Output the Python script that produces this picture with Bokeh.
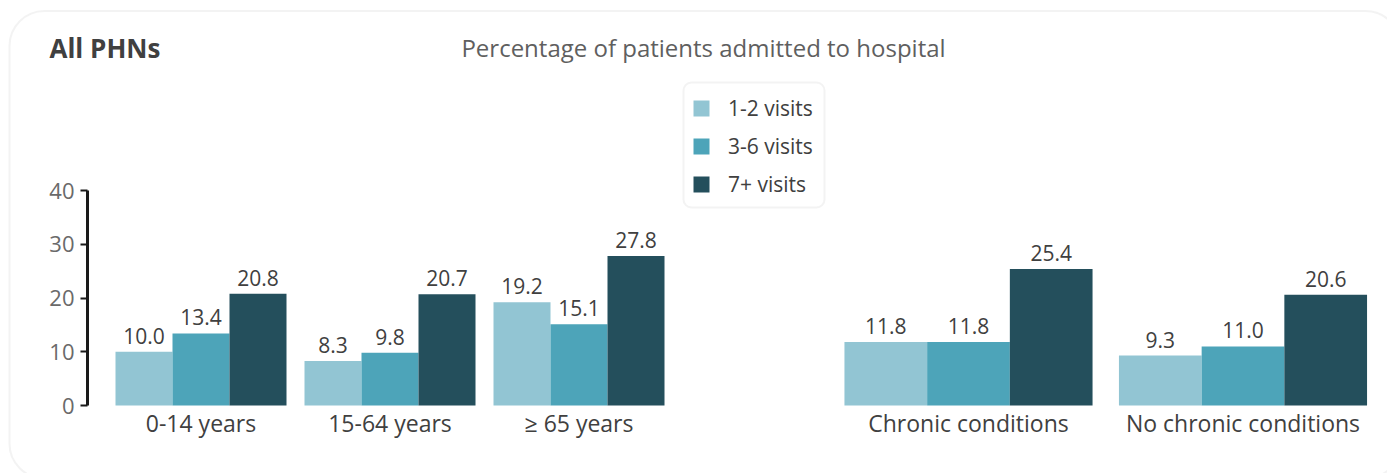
from bokeh.plotting import figure
from bokeh.models import (ColumnDataSource, Range1d, FixedTicker, Legend, LegendItem,
                          BoxAnnotation, Label)
from bokeh.core.properties import value
from bokeh.embed import file_html
from bokeh.resources import INLINE

# ---------------- data ----------------
categories = ["0-14 years", "15-64 years", "≥ 65 years", "Chronic conditions", "No chronic conditions"]
panel = [0, 0, 0, 1, 1]          # 0 = age panel (with y axis), 1 = chronic-condition panel
series_names = ["1-2 visits", "3-6 visits", "7+ visits"]
visits_1_2 = [10.0, 8.3, 19.2, 11.8, 9.3]
visits_3_6 = [13.4, 9.8, 15.1, 11.8, 11.0]
visits_7_plus = [20.8, 20.7, 27.8, 25.4, 20.6]
series_values = [visits_1_2, visits_3_6, visits_7_plus]
y_ticks = [0, 10, 20, 30, 40]
title_text = "All PHNs"
subtitle_text = "Percentage of patients admitted to hospital"

# ---------------- styling / layout ----------------
colors = ["#92c5d3", "#4da4b9", "#244f5c"]
FONT = "Open Sans"
TEXT = "#404040"
GREY = "#5f5f5f"
W, H = 1387, 473
AXIS_X = 87          # pixel column of the y axis
BASE_Y = 405         # pixel row of value 0
PX_PER_UNIT = 215 / 40.0


def ydata(py):
    """pixel row -> data value"""
    return (BASE_Y - py) / PX_PER_UNIT


def xdata(px):
    return px - AXIS_X


# group geometry (in pixel units, relative to the y axis)
GROUP_START = [113.5, 881.0]
GROUP_STEP = [189.0, 274.5]
BAR_W = [57.0, 82.7]

centers = []
counters = [0, 0]
for pnl in panel:
    centers.append(GROUP_START[pnl] + counters[pnl] * GROUP_STEP[pnl])
    counters[pnl] += 1

p = figure(width=W, height=H, output_backend="svg", toolbar_location=None,
           x_range=Range1d(xdata(0), xdata(W)), y_range=Range1d(ydata(H), ydata(0)),
           min_border=0, background_fill_color="white",
           border_fill_color="white", outline_line_color=None)
p.xgrid.visible = False
p.ygrid.visible = False

renderers = []
for s, vals in enumerate(series_values):
    xs, ws, tops, labels = [], [], [], []
    for i, v in enumerate(vals):
        w = BAR_W[panel[i]]
        xs.append(centers[i] + (s - 1) * w)
        ws.append(w)
        tops.append(v)
        labels.append(f"{v:.1f}")
    src = ColumnDataSource(dict(x=xs, w=ws, top=tops, label=labels))
    r = p.vbar(x="x", width="w", top="top", bottom=0, source=src,
               fill_color=colors[s], line_color=None)
    renderers.append(r)
    p.text(x="x", y="top", text="label", source=src, text_align="center",
           text_baseline="bottom", y_offset=-8, text_font=value(FONT),
           text_font_size="21px", text_color=TEXT)

# y axis
yax = p.yaxis[0]
yax.fixed_location = 0
yax.bounds = (0, 40)
yax.ticker = FixedTicker(ticks=y_ticks)
yax.axis_line_color = "#1a1a1a"
yax.axis_line_width = 3
yax.major_tick_line_color = "#1a1a1a"
yax.major_tick_line_width = 2
yax.major_tick_out = 7
yax.major_tick_in = 0
yax.minor_tick_line_color = None
yax.major_label_text_font = FONT
yax.major_label_text_font_size = "22px"
yax.major_label_text_color = "#6a6a6a"
yax.major_label_standoff = 6

# x axis with category labels
xax = p.xaxis[0]
xax.fixed_location = 0
xax.ticker = FixedTicker(ticks=centers)
xax.major_label_overrides = {c: name for c, name in zip(centers, categories)}
xax.axis_line_color = None
xax.major_tick_line_color = None
xax.major_tick_out = 0
xax.major_tick_in = 0
xax.minor_tick_line_color = None
xax.major_label_text_font = FONT
xax.major_label_text_font_size = "23px"
xax.major_label_text_color = TEXT
xax.major_label_standoff = 1


def box(left, right, top, bottom, radius):
    b = BoxAnnotation(left=left, right=right, top=top, bottom=bottom,
                      fill_color=None, fill_alpha=0, line_color="#d6d6d6", line_width=2)
    if "border_radius" in BoxAnnotation.properties():
        b.border_radius = radius
    return b


# outer rounded panel border
p.add_layout(box(xdata(9), xdata(1400), ydata(10.5), ydata(478), 35))
# legend box
p.add_layout(box(xdata(683), xdata(824), ydata(82), ydata(207), 8))

legend = Legend(items=[LegendItem(label=n, renderers=[r]) for n, r in zip(series_names, renderers)],
                location=(691, H - 197.5), orientation="vertical", glyph_width=20, glyph_height=20,
                label_standoff=17, padding=0, margin=0, spacing=10, label_height=22,
                border_line_color=None, background_fill_alpha=0,
                label_text_font=FONT, label_text_font_size="21px", label_text_color=TEXT)
p.add_layout(legend)

# titles
p.add_layout(Label(x=xdata(49), y=ydata(47), text=title_text, text_font=FONT, text_font_size="26px",
                   text_font_style="bold", text_color=TEXT, text_baseline="middle",
                   text_align="left"))
p.add_layout(Label(x=xdata(703), y=ydata(47), text=subtitle_text, text_font=FONT, text_font_size="24px",
                   text_color=GREY, text_baseline="middle", text_align="center"))

open("out.html", "w").write(file_html(p, INLINE))
